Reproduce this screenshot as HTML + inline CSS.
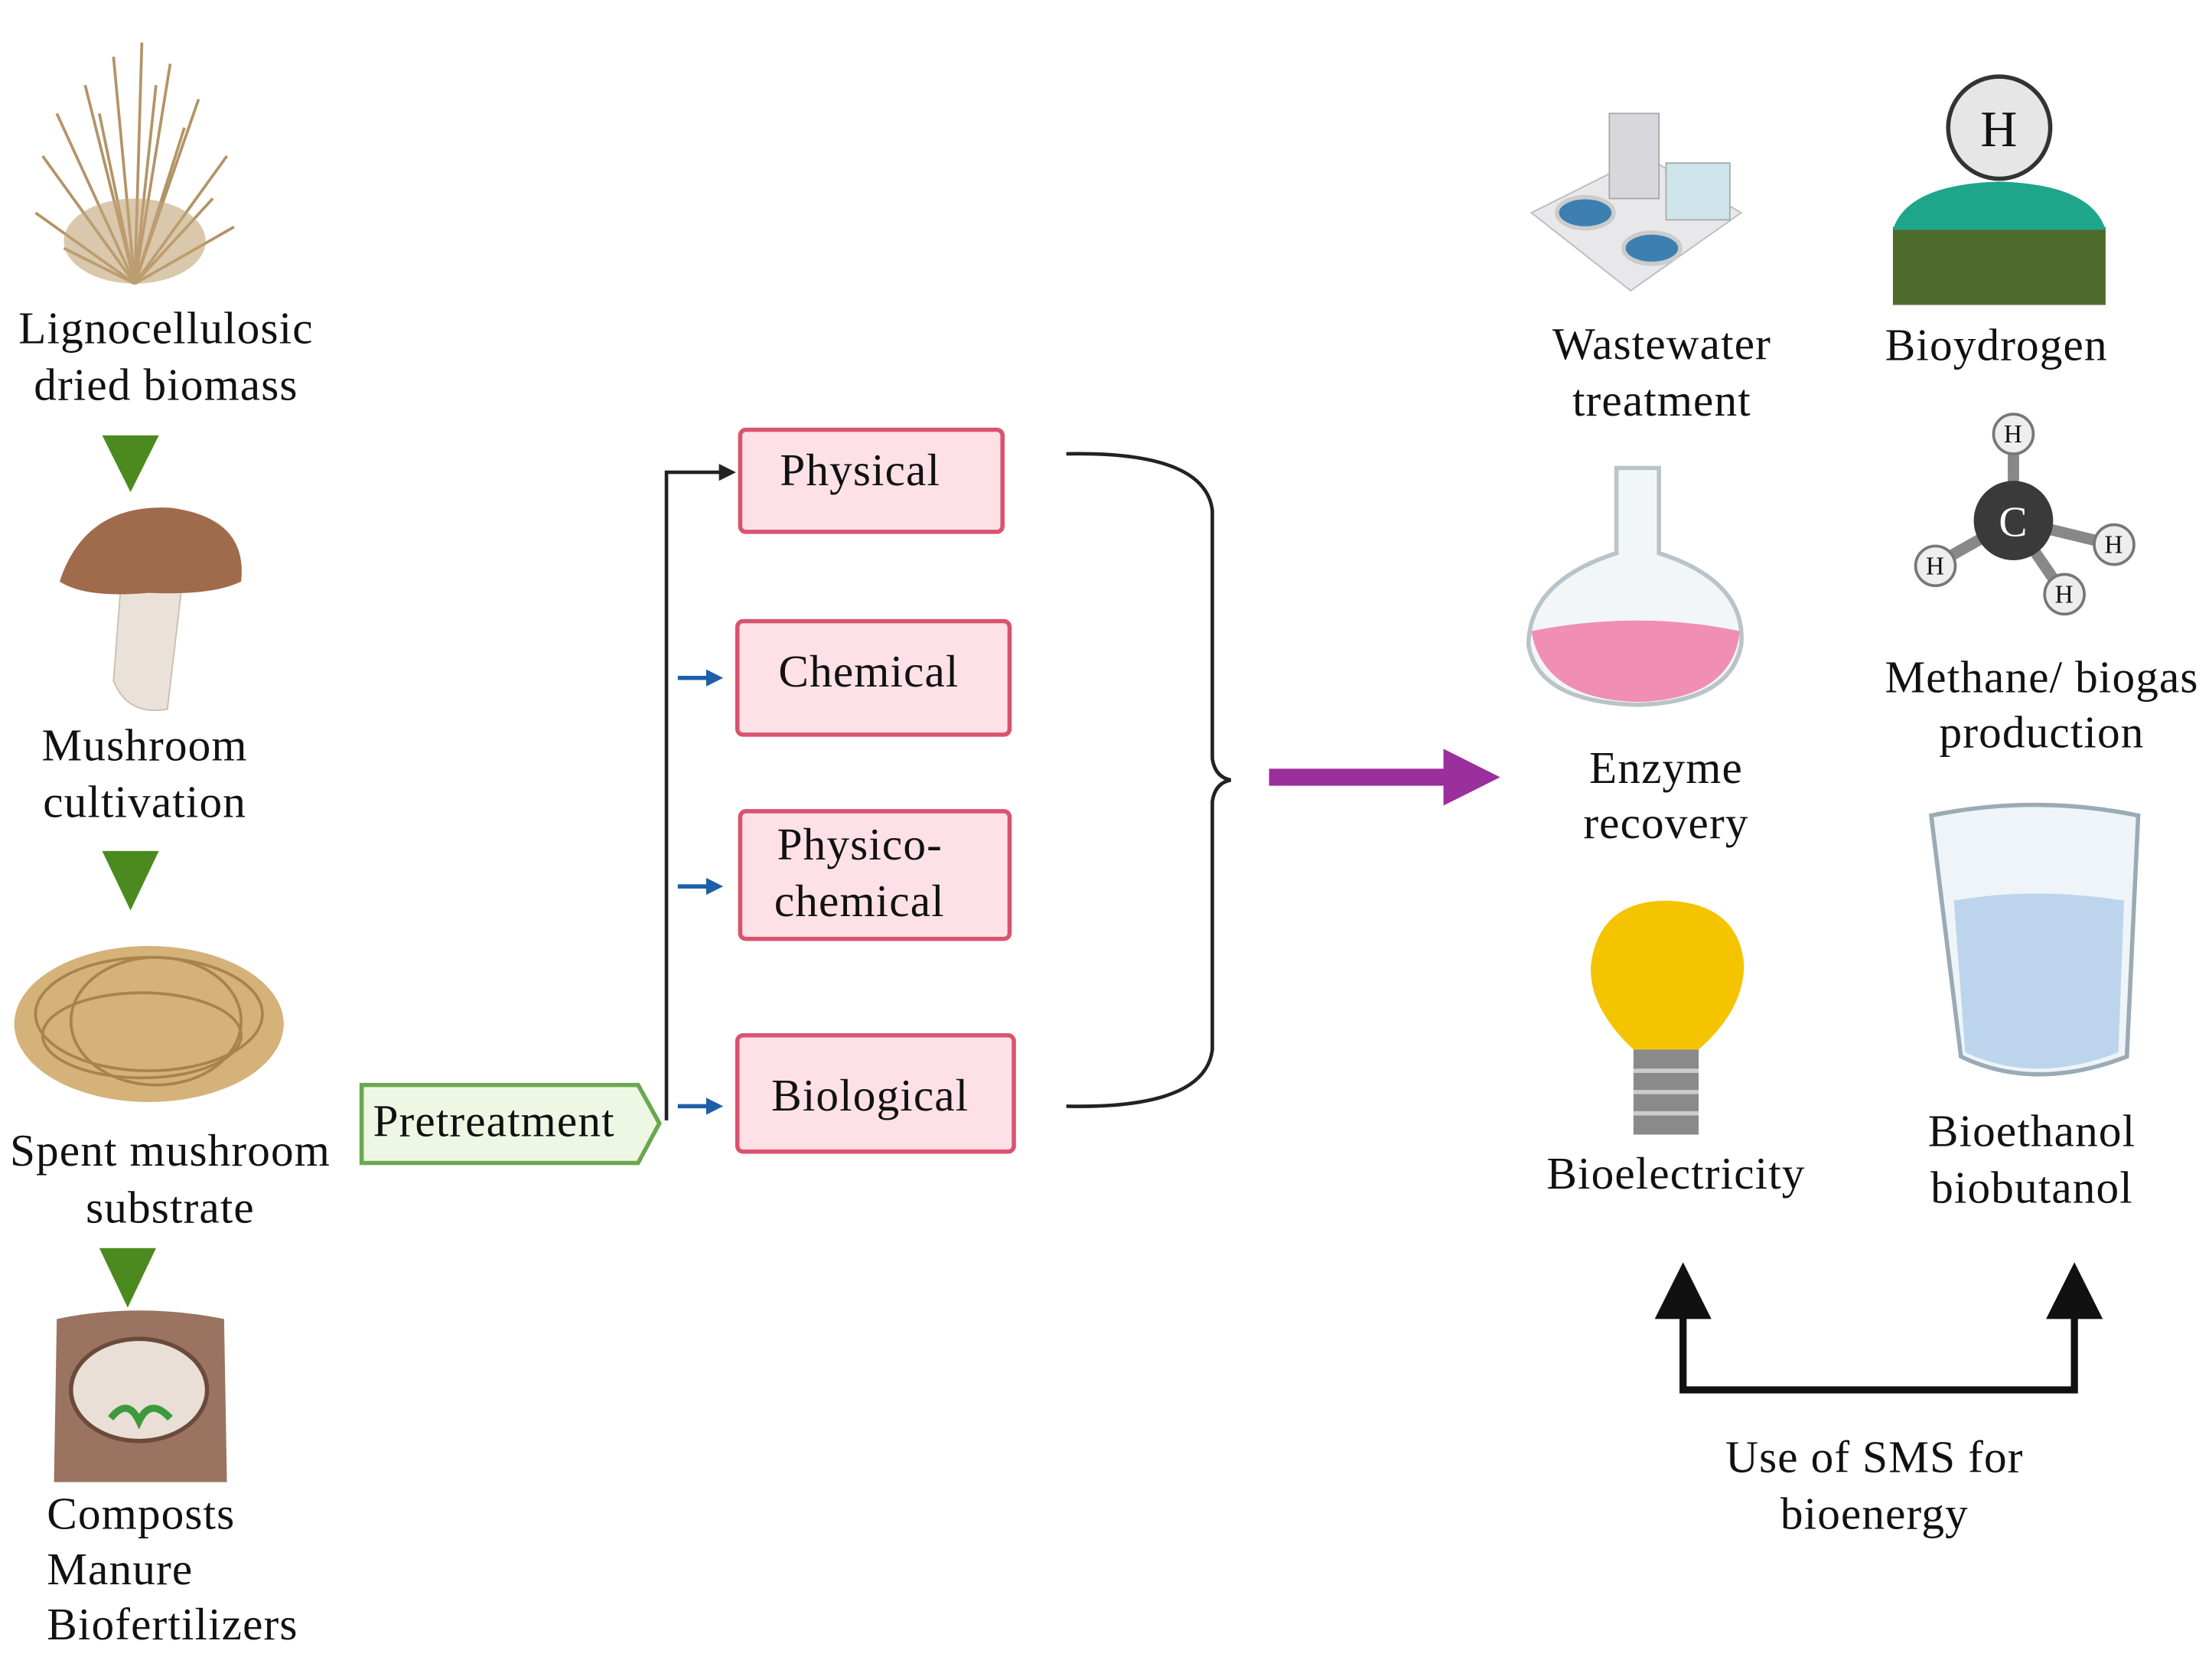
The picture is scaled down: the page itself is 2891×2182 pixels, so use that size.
<!DOCTYPE html>
<html><head><meta charset="utf-8"><style>
html,body{margin:0;padding:0;background:#fff}
svg{display:block}
text{font-family:"Liberation Serif",serif;font-size:32px;letter-spacing:0.6px;fill:#111}
</style></head><body>
<svg width="2891" height="2182" viewBox="0 0 1560 1177.5" xmlns="http://www.w3.org/2000/svg">
<g stroke="#b39467" stroke-width="2" fill="none">
<path d="M95 200 L60 60 M95 200 L80 40 M95 200 L100 30 M95 200 L120 45 M95 200 L140 70 M95 200 L160 110 M95 200 L30 110 M95 200 L40 80 M95 200 L25 150 M95 200 L165 160 M95 200 L150 140 M95 200 L45 175 M95 200 L110 60 M95 200 L70 80 M95 200 L130 90"/>
</g>
<ellipse cx="95" cy="170" rx="50" ry="30" fill="#c2a477" opacity="0.6"/>
<text x="117" y="242" text-anchor="middle">Lignocellulosic</text>
<text x="117" y="282" text-anchor="middle">dried biomass</text>
<polygon points="72,307 112,307 92,347" fill="#4c8a1f"/>
<path d="M85 415 L80 480 Q90 505 118 500 L128 415 Z" fill="#eae2d8" stroke="#c9bfb2"/>
<path d="M42 410 Q60 355 120 358 Q175 365 170 410 Q150 420 105 418 Q60 422 42 410Z" fill="#a06b4b"/>
<text x="102" y="536" text-anchor="middle">Mushroom</text>
<text x="102" y="576" text-anchor="middle">cultivation</text>
<polygon points="72,600 112,600 92,642" fill="#4c8a1f"/>
<ellipse cx="105" cy="722" rx="95" ry="55" fill="#d4b27a"/>
<g stroke="#a8834a" stroke-width="2" fill="none"><ellipse cx="105" cy="715" rx="80" ry="40"/><ellipse cx="100" cy="730" rx="70" ry="30"/><ellipse cx="110" cy="720" rx="60" ry="45"/></g>
<text x="120" y="822" text-anchor="middle">Spent mushroom</text>
<text x="120" y="862" text-anchor="middle">substrate</text>
<polygon points="70,880 110,880 90,922" fill="#4c8a1f"/>
<path d="M40 930 Q98 918 158 930 L160 1045 L38 1045 Z" fill="#9a7460"/>
<ellipse cx="98" cy="980" rx="48" ry="36" fill="#e9dfd6" stroke="#6a4a3a" stroke-width="3"/>
<path d="M78 1000 Q90 985 98 1002 Q106 985 120 1000" stroke="#3c9a3c" stroke-width="5" fill="none"/>
<text x="33" y="1078">Composts</text>
<text x="33" y="1117">Manure</text>
<text x="33" y="1156">Biofertilizers</text>
<polygon points="255,765 450,765 465,792 450,820 255,820" fill="#eef7e4" stroke="#6aa84f" stroke-width="3"/>
<text x="263" y="801">Pretreatment</text>
<path d="M470 790 L470 333 L510 333" stroke="#222" stroke-width="2.5" fill="none"/>
<polygon points="507,327 519,333 507,339" fill="#222"/>
<g stroke="#1d5fa8" stroke-width="3"><line x1="478" y1="478" x2="500" y2="478"/><line x1="478" y1="625" x2="500" y2="625"/><line x1="478" y1="780" x2="500" y2="780"/></g>
<g fill="#1d5fa8"><polygon points="498,472 510,478 498,484"/><polygon points="498,619 510,625 498,631"/><polygon points="498,774 510,780 498,786"/></g>
<g fill="#fde1e7" stroke="#d9536f" stroke-width="3">
<rect x="522" y="303" width="185" height="72" rx="4"/>
<rect x="520" y="438" width="192" height="80" rx="4"/>
<rect x="522" y="572" width="190" height="90" rx="4"/>
<rect x="520" y="730" width="195" height="82" rx="4"/>
</g>
<text x="550" y="342">Physical</text>
<text x="549" y="484">Chemical</text>
<text x="548" y="606">Physico-</text>
<text x="546" y="646">chemical</text>
<text x="544" y="783">Biological</text>
<path d="M752 320 Q850 318 855 360 L855 535 Q857 548 868 550 Q857 552 855 565 L855 740 Q850 782 752 780" stroke="#222" stroke-width="2.5" fill="none"/>
<line x1="895" y1="548" x2="1022" y2="548" stroke="#9b2f9b" stroke-width="12"/>
<polygon points="1018,528 1058,548 1018,568" fill="#9b2f9b"/>
<polygon points="1080,150 1160,110 1228,150 1150,205" fill="#e8e8ea" stroke="#bbb"/>
<rect x="1135" y="80" width="35" height="60" fill="#d8d8dc" stroke="#aaa"/>
<rect x="1175" y="115" width="45" height="40" fill="#cfe4ea" stroke="#aaa"/>
<ellipse cx="1118" cy="150" rx="20" ry="11" fill="#3d7fb0" stroke="#ccc" stroke-width="3"/>
<ellipse cx="1165" cy="175" rx="20" ry="11" fill="#3d7fb0" stroke="#ccc" stroke-width="3"/>
<text x="1172" y="253" text-anchor="middle">Wastewater</text>
<text x="1172" y="293" text-anchor="middle">treatment</text>
<circle cx="1410" cy="90" r="36" fill="#e6e6e6" stroke="#333" stroke-width="3"/>
<text x="1410" y="103" text-anchor="middle" style="font-size:36px">H</text>
<rect x="1335" y="160" width="150" height="55" fill="#4f6b2c"/>
<path d="M1335 162 Q1345 130 1410 128 Q1475 130 1485 162 Z" fill="#1fa58a"/>
<text x="1408" y="254" text-anchor="middle">Bioydrogen</text>
<path d="M1140 330 L1170 330 L1170 390 Q1232 410 1228 455 Q1220 495 1155 497 Q1085 495 1078 455 Q1078 410 1140 390 Z" fill="#f2f6f8" stroke="#b8c4c8" stroke-width="3"/>
<path d="M1080 445 Q1155 430 1227 445 Q1222 493 1155 495 Q1088 493 1080 445Z" fill="#f08fb1"/>
<text x="1175" y="552" text-anchor="middle">Enzyme</text>
<text x="1175" y="591" text-anchor="middle">recovery</text>
<g stroke="#888" stroke-width="8"><line x1="1420" y1="367" x2="1420" y2="308"/><line x1="1420" y1="367" x2="1365" y2="398"/><line x1="1420" y1="367" x2="1490" y2="384"/><line x1="1420" y1="367" x2="1455" y2="418"/></g>
<g fill="#eee" stroke="#777" stroke-width="2"><circle cx="1420" cy="306" r="14"/><circle cx="1365" cy="399" r="14"/><circle cx="1491" cy="384" r="14"/><circle cx="1456" cy="419" r="14"/></g>
<circle cx="1420" cy="367" r="28" fill="#3a3a3a"/>
<text x="1420" y="378" text-anchor="middle" style="font-size:30px;fill:#fff">C</text>
<text x="1420" y="312" text-anchor="middle" style="font-size:18px">H</text><text x="1365" y="405" text-anchor="middle" style="font-size:18px">H</text><text x="1491" y="390" text-anchor="middle" style="font-size:18px">H</text><text x="1456" y="425" text-anchor="middle" style="font-size:18px">H</text>
<text x="1440" y="488" text-anchor="middle">Methane/ biogas</text>
<text x="1440" y="527" text-anchor="middle">production</text>
<path d="M1152 740 Q1120 710 1122 680 Q1128 635 1176 635 Q1226 637 1230 680 Q1230 712 1198 740 Z" fill="#f5c400"/>
<rect x="1152" y="740" width="46" height="60" fill="#8a8a8a"/>
<g stroke="#ccc" stroke-width="3"><line x1="1152" y1="755" x2="1198" y2="755"/><line x1="1152" y1="770" x2="1198" y2="770"/><line x1="1152" y1="785" x2="1198" y2="785"/></g>
<text x="1182" y="838" text-anchor="middle">Bioelectricity</text>
<path d="M1362 575 Q1435 560 1508 575 L1500 745 Q1435 770 1383 745 Z" fill="#eef4f8" stroke="#9aabb5" stroke-width="3"/>
<path d="M1378 635 Q1435 625 1498 635 L1494 742 Q1435 765 1386 742 Z" fill="#bcd5ec"/>
<text x="1433" y="808" text-anchor="middle">Bioethanol</text>
<text x="1433" y="848" text-anchor="middle">biobutanol</text>
<path d="M1187 925 L1187 980 L1463 980 L1463 925" stroke="#111" stroke-width="5" fill="none"/>
<polygon points="1167,930 1187,890 1207,930" fill="#111"/>
<polygon points="1443,930 1463,890 1483,930" fill="#111"/>
<text x="1322" y="1038" text-anchor="middle">Use of SMS for</text>
<text x="1322" y="1078" text-anchor="middle">bioenergy</text>
</svg>
</body></html>
